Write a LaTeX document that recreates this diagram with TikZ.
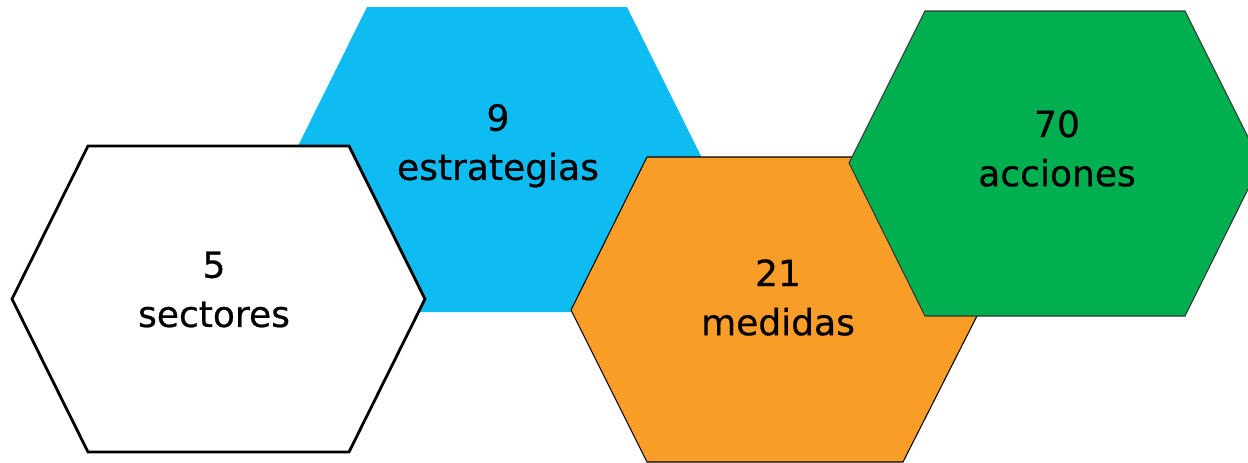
\documentclass[tikz,border=0pt]{standalone}
\usepackage{fontspec}
\setmainfont{DejaVu Sans}
\newfontfamily\hexfont{DejaVu Sans}[FakeBold=0.6]
\usepackage{tikz}
\usetikzlibrary{positioning}

\definecolor{hexblue}{RGB}{14,188,241}
\definecolor{hexorange}{RGB}{248,158,40}
\definecolor{hexgreen}{RGB}{0,176,80}

\tikzset{
	hexlabel/.style={align=center, inner sep=0pt, font=\hexfont\fontsize{20.5}{28}\selectfont},
}

\begin{document}
\begin{tikzpicture}[x=0.02cm, y=-0.02cm]
	
	\useasboundingbox (0,0) rectangle (1248,463);
	
	% estrategias
	\fill[hexblue] (291,160) -- (367,7) -- (627,7) -- (703,160) -- (627,312) -- (367,312) -- cycle;
	
	% sectores
	\draw[black, line width=1.6pt, fill=white] (12,299) -- (88,146) -- (349,146) -- (425,299) -- (349,452) -- (88,452) -- cycle;
	
	% medidas
	\draw[black, line width=0.6pt, fill=hexorange] (571,310) -- (647,157) -- (903,157) -- (980,310) -- (903,462) -- (647,462) -- cycle;
	
	% acciones
	\draw[black!80, line width=0.6pt, fill=hexgreen] (849,163) -- (925,11) -- (1185,11) -- (1261,163) -- (1185,316) -- (925,316) -- cycle;
	
	\node[hexlabel] (sectores) at (214,289.5) {5\\sectores};
	\node[hexlabel] (estrategias) at (498,145.7) {9\\estrategias};
	\node[hexlabel] (medidas) at (778,297.5) {21\\medidas};
	\node[hexlabel] (acciones) at (1057,148.5) {70\\acciones};
	
\end{tikzpicture}
\end{document}
